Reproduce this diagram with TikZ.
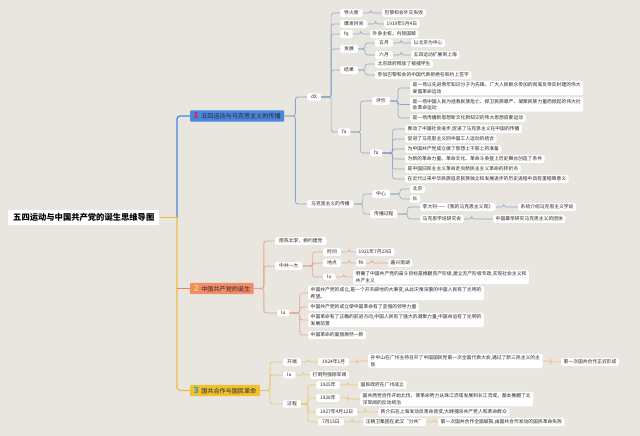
\documentclass[tikz,border=0pt]{standalone}
\usepackage{fontspec}
\setmainfont{Noto Sans CJK SC}
\definecolor{bg}{HTML}{E9E6E0}
\definecolor{cA}{HTML}{4A86E0}
\definecolor{lA}{HTML}{8EA6C6}
\definecolor{tA}{HTML}{4A86E0}
\definecolor{cB}{HTML}{F38A68}
\definecolor{lB}{HTML}{E6A593}
\definecolor{tB}{HTML}{E9825F}
\definecolor{cC}{HTML}{F0C030}
\definecolor{lC}{HTML}{E8C46E}
\definecolor{tC}{HTML}{E9BD45}
\definecolor{nA}{HTML}{D8283C}
\definecolor{nB}{HTML}{F8CF4A}
\definecolor{nC}{HTML}{2A9AD2}
\newcommand\bnum[2]{\textcolor{#1}{\fontsize{8.5}{8.5}\selectfont\bfseries #2}\hspace{2.5pt}}
\tikzset{
  leaf/.style={fill=white, rounded corners=1.5pt, inner xsep=2.5pt, inner ysep=1.6pt,
    font=\fontsize{4.8}{6.5}\selectfont, anchor=west, text=black!85, align=left},
  lab/.style={leaf, inner xsep=4pt},
  branch/.style={rounded corners=1pt, inner xsep=3.5pt, inner ysep=2.3pt,
    font=\fontsize{6.1}{7}\selectfont, anchor=west, text=black!85},
  rootbox/.style={fill=white, inner xsep=5pt, inner ysep=3.5pt,
    font=\fontsize{8.3}{10}\selectfont\bfseries},
  lnA/.style={draw=lA, line width=0.6pt, rounded corners=2.5pt},
  lnB/.style={draw=lB, line width=0.6pt, rounded corners=2.5pt},
  lnC/.style={draw=lC, line width=0.6pt, rounded corners=2.5pt},
}
\begin{document}
\begin{tikzpicture}[x=1pt,y=-1pt]
\fill[bg] (0,0) rectangle (640,436);
\useasboundingbox (0,0) rectangle (640,436);

% root and main branches
\node[rootbox, anchor=west] (root) at (8,217.5) {五四运动与中国共产党的诞生思维导图};
\node[branch, fill=cA] (b1) at (190,116) {\bnum{nA}{1}五四运动与马克思主义的传播};
\node[branch, fill=cB] (b2) at (190,288.5) {\bnum{nB}{2}中国共产党的诞生};
\node[branch, fill=cC] (b3) at (190,390.5) {\bnum{nC}{3}国共合作与国民革命};
\coordinate (trunk) at (177,217.5);

\draw[draw=tA, line width=1.2pt, rounded corners=3pt] (trunk) |- (b1.west);
\draw[draw=tC, line width=1.2pt, rounded corners=3pt] (trunk) |- (b3.west);
\draw[draw=tB, line width=1.2pt] (trunk |- b2.west) -- (b2.west);
\draw[draw=tC, line width=1.2pt] (root.east) -- (trunk);

% ---------- branch 1 ----------
\node[lab] (dx) at (307,97) {dX};
\node[lab] (mks) at (307,204) {马克思主义的传播};

\node[lab] (dhs) at (340,13) {导火索};
\node[lab] (bfsj) at (340,24) {爆发时间};
\node[lab] (fq) at (340,34) {fq};
\node[lab] (fz) at (340,49) {发展};
\node[lab] (jg) at (340,70) {结果};
\node[lab] (fa) at (338,132) {fa};

\node[leaf] (l1) at (382,13) {巴黎和会外交失败};
\node[leaf] (l2) at (384,24) {1919年5月4日};
\node[leaf] (l3) at (370,34) {外争主权，内除国贼};
\node[lab] (wy) at (375,43) {五月};
\node[lab] (ly) at (375,55) {六月};
\node[leaf] (l4) at (411,43) {以北京为中心};
\node[leaf] (l5) at (411,55) {五四运动扩展到上海};
\node[leaf] (l6) at (375,64) {北京政府释放了被捕学生};
\node[leaf] (l7) at (375,75) {参加巴黎和会的中国代表拒绝在和约上签字};

\node[lab] (pj) at (372,101) {评价};
\node[lab] (fa2) at (370,153) {fa};
\node[leaf] (p1) at (410,88) {是一场以先进青年知识分子为先锋、广大人民群众参加的彻底反帝反封建的伟大\\爱国革命运动};
\node[leaf] (p2) at (410,104.5) {是一场中国人民为拯救民族危亡、捍卫民族尊严、凝聚民族力量而掀起的伟大社\\会革命运动};
\node[leaf] (p3) at (410,118) {是一场传播新思想新文化新知识的伟大思想启蒙运动};

\node[leaf] (q1) at (405,129) {推动了中国社会进步,促进了马克思主义在中国的传播};
\node[leaf] (q2) at (405,139) {促进了马克思主义同中国工人运动的结合};
\node[leaf] (q3) at (405,149) {为中国共产党成立做了思想上干部上的准备};
\node[leaf] (q4) at (405,159) {为新的革命力量、革命文化、革命斗争登上历史舞台创造了条件};
\node[leaf] (q5) at (405,169) {是中国旧民主主义革命走向新民主主义革命的转折点};
\node[leaf] (q6) at (405,179) {在近代以来中华民族追求民族独立和发展进步的历史进程中具有里程碑意义};

\node[lab] (zx) at (372,194) {中心};
\node[lab] (cbgc) at (370,214) {传播过程};
\node[leaf] (bj) at (410,189) {北京};
\node[leaf] (sh) at (410,199) {长};
\node[leaf] (ldz) at (420,207) {李大钊——《我的马克思主义观》};
\node[leaf] (xt) at (518,207) {系统介绍马克思主义学说};
\node[leaf] (yjh) at (420,219) {马克思学说研究会};
\node[leaf] (zgzz) at (493,219) {中国最早研究马克思主义的团体};

\foreach \c in {dx,mks} \draw[lnA, line width=0.8pt] (b1.east) -- ++(11,0) |- (\c.west);
\foreach \c in {dhs,bfsj,fq,fz,jg,fa} \draw[lnA] (dx.east) -- ++(10,0) |- (\c.west);
\draw[lnA] (dhs.east) -- ++(8,0) |- (l1.west);
\draw[lnA] (bfsj.east) -- ++(8,0) |- (l2.west);
\draw[lnA] (fq.east) -- ++(8,0) |- (l3.west);
\foreach \c in {wy,ly} \draw[lnA] (fz.east) -- ++(7,0) |- (\c.west);
\draw[lnA] (wy.east) -- ++(8,0) |- (l4.west);
\draw[lnA] (ly.east) -- ++(8,0) |- (l5.west);
\foreach \c in {l6,l7} \draw[lnA] (jg.east) -- ++(7,0) |- (\c.west);
\foreach \c in {pj,fa2} \draw[lnA] (fa.east) -- ++(10,0) |- (\c.west);
\foreach \c in {p1,p2,p3} \draw[lnA] (pj.east) -- ++(8,0) |- (\c.west);
\foreach \c in {q1,q2,q3,q4,q5,q6} \draw[lnA] (fa2.east) -- ++(10,0) |- (\c.west);
\foreach \c in {zx,cbgc} \draw[lnA] (mks.east) -- ++(9,0) |- (\c.west);
\foreach \c in {bj,sh} \draw[lnA] (zx.east) -- ++(10,0) |- (\c.west);
\foreach \c in {ldz,yjh} \draw[lnA] (cbgc.east) -- ++(10,0) |- (\c.west);
\draw[lnA] (ldz.east) -- ++(8,0) |- (xt.west);
\draw[lnA] (yjh.east) -- ++(8,0) |- (zgzz.west);

% ---------- branch 2 ----------
\node[lab] (nc) at (275,241) {南陈北李，相约建党};
\node[lab] (zgyd) at (275,266) {中共一大};
\node[lab] (yy2) at (277,313) {Iu};
\node[lab] (sj) at (323,252) {时间};
\node[leaf] (t1) at (356,252) {1921年7月23日};
\node[lab] (dd) at (323,263) {地点};
\node[leaf] (fk) at (356,263) {fK};
\node[leaf] (jx) at (388,263) {嘉兴南湖};
\node[lab] (iu2) at (323,277) {Iu};
\node[leaf] (mq) at (353,277) {明确了中国共产党的奋斗目标是推翻资产阶级,建立无产阶级专政,实现社会主义和\\共产主义};
\node[leaf] (y1) at (308,293) {中国共产党的成立,是一个开天辟地的大事变,从此灾难深重的中国人民有了光明的\\希望。};
\node[leaf] (y2) at (308,307) {中国共产党的成立使中国革命有了坚强的领导力量};
\node[leaf] (y3) at (308,320) {中国革命有了正确的前进方向,中国人民有了强大的凝聚力量,中国命运有了光明的\\发展前景};
\node[leaf] (y4) at (308,335) {中国革命的面貌焕然一新};

\foreach \c in {nc,zgyd,yy2} \draw[lnB, line width=0.8pt] (b2.east) -- ++(10,0) |- (\c.west);
\foreach \c in {sj,dd,iu2} \draw[lnB] (zgyd.east) -- ++(10,0) |- (\c.west);
\draw[lnB] (sj.east) -- ++(8,0) |- (t1.west);
\draw[lnB] (dd.east) -- ++(8,0) |- (fk.west);
\draw[lnB] (fk.east) -- ++(6,0) |- (jx.west);
\draw[lnB] (iu2.east) -- ++(8,0) |- (mq.west);
\foreach \c in {y1,y2,y3,y4} \draw[lnB] (yy2.east) -- ++(10,0) |- (\c.west);

% ---------- branch 3 ----------
\node[lab] (kd) at (283,362) {开端};
\node[lab] (iu3) at (283,375) {Iu};
\node[lab] (gc) at (283,404) {过程};
\node[lab] (d1) at (318,362) {1924年1月};
\node[leaf] (szs) at (368,361) {孙中山在广州主持召开了中国国民党第一次全国代表大会,通过了新三民主义的主\\张};
\node[leaf] (hz) at (561,362) {第一次国共合作正式形成};
\node[leaf] (dd3) at (310,375) {打倒列强除军阀};
\node[lab] (y25) at (316,385) {1925年};
\node[leaf] (g1) at (358,385) {国民政府在广州成立};
\node[lab] (y26) at (316,398) {1926年};
\node[leaf] (g2) at (360,399) {国共两党合作开始北伐，使革命势力从珠江流域发展到长江流域，基本推翻了北\\洋军阀的反动统治};
\node[lab] (y27) at (316,412) {1927年4月12日};
\node[leaf] (g3) at (378,412) {蒋介石在上海发动反革命政变,大肆捕杀共产党人和革命群众};
\node[lab] (y7) at (318,422) {7月15日};
\node[leaf] (g4) at (363,422) {汪精卫集团在武汉“分共”};
\node[leaf] (g5) at (438,422) {第一次国共合作全面破裂,由国共合作发动的国民革命失败};

\foreach \c in {kd,iu3,gc} \draw[lnC, line width=0.8pt] (b3.east) -- ++(10,0) |- (\c.west);
\draw[lnC] (kd.east) -- ++(8,0) |- (d1.west);
\draw[lnC] (d1.east) -- ++(8,0) |- (szs.west);
\draw[lnC] (szs.east) -- ++(8,0) |- (hz.west);
\draw[lnC] (iu3.east) -- ++(8,0) |- (dd3.west);
\foreach \c in {y25,y26,y27,y7} \draw[lnC] (gc.east) -- ++(7,0) |- (\c.west);
\draw[lnC] (y25.east) -- ++(8,0) |- (g1.west);
\draw[lnC] (y26.east) -- ++(8,0) |- (g2.west);
\draw[lnC] (y27.east) -- ++(8,0) |- (g3.west);
\draw[lnC] (y7.east) -- ++(8,0) |- (g4.west);
\draw[lnC] (g4.east) -- ++(8,0) |- (g5.west);
\end{tikzpicture}
\end{document}
